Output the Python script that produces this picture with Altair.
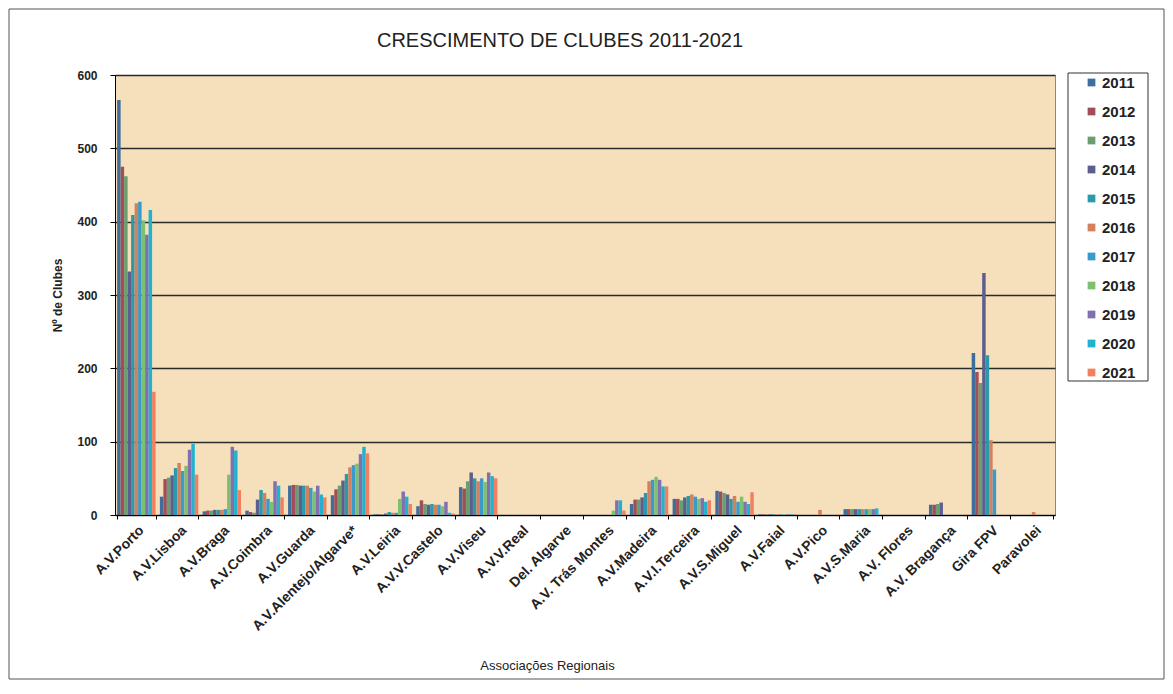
import altair as alt
import pandas as pd

categories = ["A.V.Porto", "A.V.Lisboa", "A.V.Braga", "A.V.Coimbra", "A.V.Guarda",
              "A.V.Alentejo/Algarve*", "A.V.Leiria", "A.V.V.Castelo", "A.V.Viseu",
              "A.V.V.Real", "Del. Algarve", "A.V. Trás Montes", "A.V.Madeira",
              "A.V.I.Terceira", "A.V.S.Miguel", "A.V.Faial", "A.V.Pico", "A.V.S.Maria",
              "A.V. Flores", "A.V. Bragança", "Gira FPV", "Paravolei"]

years = ["2011", "2012", "2013", "2014", "2015", "2016", "2017", "2018", "2019", "2020", "2021"]

v2011 = [566, 25, 5, 6, 40, 27, 1, 12, 38, 0, 0, 0, 15, 22, 33, 1, 0, 8, 0, 14, 221, 0]
v2012 = [475, 49, 6, 4, 41, 35, 1, 20, 36, 0, 0, 0, 21, 22, 32, 1, 0, 8, 0, 14, 195, 0]
v2013 = [462, 51, 6, 3, 41, 40, 1, 15, 46, 0, 0, 0, 21, 20, 30, 1, 0, 8, 0, 15, 180, 0]
v2014 = [332, 54, 7, 21, 40, 47, 2, 14, 58, 0, 0, 0, 24, 24, 28, 1, 0, 8, 0, 17, 330, 0]
v2015 = [409, 64, 7, 34, 40, 56, 4, 15, 50, 0, 0, 0, 30, 26, 22, 1, 0, 8, 0, 0, 218, 0]
v2016 = [425, 71, 7, 30, 40, 65, 3, 14, 46, 0, 0, 0, 46, 28, 26, 1, 7, 8, 0, 0, 102, 4]
v2017 = [427, 60, 8, 22, 37, 68, 3, 14, 50, 0, 0, 0, 48, 25, 18, 1, 0, 8, 0, 0, 62, 0]
v2018 = [402, 67, 55, 18, 32, 70, 22, 12, 45, 0, 0, 6, 52, 22, 25, 1, 0, 8, 0, 0, 0, 0]
v2019 = [382, 89, 93, 46, 40, 83, 32, 18, 58, 0, 0, 20, 48, 23, 18, 1, 0, 8, 0, 0, 0, 0]
v2020 = [416, 97, 88, 40, 28, 93, 25, 3, 53, 0, 0, 20, 39, 18, 15, 1, 0, 9, 0, 0, 0, 0]
v2021 = [168, 55, 34, 24, 24, 84, 15, 2, 50, 0, 0, 6, 39, 20, 31, 1, 0, 0, 0, 0, 0, 0]

colors = ["#3F6E9C", "#A04E5A", "#6A9E6E", "#5C5E8E", "#2A9AAA", "#D2805E",
          "#3A9ACB", "#7CC070", "#8070B0", "#22B2D0", "#F08060"]

series = [v2011, v2012, v2013, v2014, v2015, v2016, v2017, v2018, v2019, v2020, v2021]
rows = []
for y, vals in zip(years, series):
    for c, v in zip(categories, vals):
        rows.append({"Associação": c, "Ano": y, "Clubes": v})
df = pd.DataFrame(rows)

FONT = "Liberation Sans"

bars = alt.Chart(df).mark_bar().encode(
    x=alt.X("Associação:N", sort=categories,
            scale=alt.Scale(paddingInner=0.1, paddingOuter=0.05),
            axis=alt.Axis(title="Associações Regionais", labelAngle=315,
                          labelFontWeight="bold", labelFontSize=14, labelColor="#222",
                          tickBand="extent", tickColor="#000", tickSize=4,
                          domainColor="#000", labelPadding=4,
                          titleFontWeight="normal", titleFontSize=13, titleColor="#222",
                          titleX=432, titleY=150, titleAlign="center",
                          titleBaseline="middle")),
    xOffset=alt.XOffset("Ano:N", sort=years),
    y=alt.Y("Clubes:Q", scale=alt.Scale(domain=[0, 600], nice=False),
            axis=alt.Axis(title="Nº de Clubes", values=[0, 100, 200, 300, 400, 500, 600],
                          labelFontWeight="bold", labelFontSize=12, labelColor="#222",
                          tickColor="#000", tickSize=5, domainColor="#000",
                          labelPadding=13,
                          gridColor="#2a2a2a", gridWidth=1.3,
                          titleFontWeight="bold", titleFontSize=12, titleColor="#222",
                          titleX=-58, titleY=220, titleAngle=270, titleAlign="center",
                          titleBaseline="middle")),
    color=alt.Color("Ano:N", sort=years,
                    scale=alt.Scale(domain=years, range=colors),
                    legend=alt.Legend(title=None, orient="none", legendX=953, legendY=-2,
                                      symbolType="square", symbolSize=60,
                                      symbolStrokeWidth=0, symbolOffset=14,
                                      labelFontSize=15, labelFontWeight="bold",
                                      labelColor="#222", rowPadding=13,
                                      padding=2, labelOffset=3)),
)

onerow = pd.DataFrame({"a": [0]})

frame = alt.Chart(onerow).mark_rect(
    fillOpacity=0, stroke="#555", strokeWidth=1
).encode(x=alt.value(-106), x2=alt.value(1049), y=alt.value(-66), y2=alt.value(604))

legend_box = alt.Chart(onerow).mark_rect(
    fill="white", stroke="#333", strokeWidth=1
).encode(x=alt.value(953), x2=alt.value(1033), y=alt.value(-2), y2=alt.value(306))

chart = alt.layer(bars, legend_box, frame).properties(
    width=940, height=440,
    autosize=alt.AutoSizeParams(type="none"),
    padding={"left": 107, "top": 67, "right": 110, "bottom": 165},
    title=alt.TitleParams("CRESCIMENTO DE CLUBES 2011-2021", fontSize=20,
                          fontWeight="normal", color="#222", font=FONT,
                          offset=-42, dx=-25),
).configure(font=FONT).configure_view(
    fill="#F6E0BC", stroke="#888", strokeWidth=1
)

chart.save("out.html", embed_options={"renderer": "svg", "actions": False})
